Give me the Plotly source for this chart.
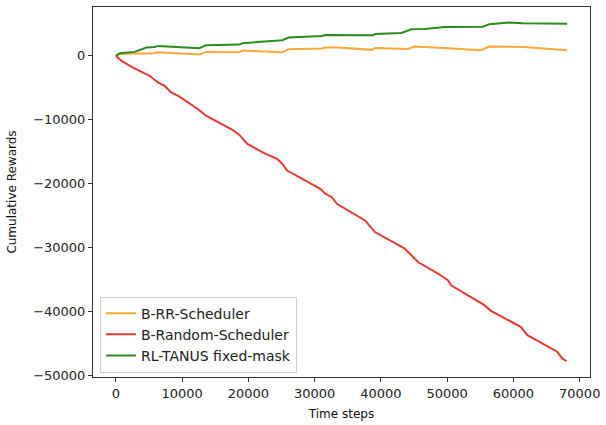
import plotly.graph_objects as go

# ---- data ----
rr_x = [0, 600, 2850, 5600, 6350, 12600, 13600, 18600, 19100, 25100, 26100, 31100, 31600,
        33600, 38600, 39100, 44100, 45100, 50100, 55100, 56350, 61600, 68100]
rr_y = [0, 300, 380, 365, 575, 200, 625, 575, 830, 575, 1040, 1145, 1300,
        1300, 940, 1250, 1090, 1450, 1200, 890, 1450, 1400, 890]

rand_x = [0, 850, 2600, 5100, 6350, 7350, 8350, 9600, 12350, 13600, 17600, 18600, 19850,
          22600, 24350, 25100, 25850, 28100, 30850, 31600, 32600, 33350, 37600, 39100,
          43600, 45600, 48600, 50100, 50600, 55600, 56600, 61100, 62100, 66600, 67350, 68000]
rand_y = [0, -780, -1830, -3125, -4170, -4690, -5730, -6400, -8330, -9375, -11600, -12340, -13800,
          -15360, -16150, -16900, -17970, -19270, -20830, -21600, -22140, -23170, -25780, -27600,
          -30200, -32300, -34100, -35160, -35940, -39060, -39950, -42450, -43750, -46350, -47400, -47850]

rl_x = [0, 600, 2850, 4600, 5850, 6350, 12600, 13600, 18600, 19100, 25100, 26100, 31100, 31600,
        38850, 39100, 43100, 44600, 46600, 49600, 55350, 56350, 59350, 61350, 68100]
rl_y = [0, 420, 625, 1300, 1400, 1560, 1200, 1670, 1770, 1980, 2450, 2870, 3125, 3280,
        3230, 3440, 3600, 4170, 4220, 4530, 4580, 4950, 5210, 5100, 5050]

series_names = ["B-RR-Scheduler", "B-Random-Scheduler", "RL-TANUS fixed-mask"]
colors = ["#F8A93A", "#E8392F", "#2E8B22"]

x_ticks = [0, 10000, 20000, 30000, 40000, 50000, 60000, 70000]
y_ticks = [0, -10000, -20000, -30000, -40000, -50000]


def fmt(v):
    return ("\u2212" + str(abs(v))) if v < 0 else str(v)


fig = go.Figure()
for name, xs, ys, c in zip(series_names, [rr_x, rand_x, rl_x], [rr_y, rand_y, rl_y], colors):
    fig.add_trace(go.Scatter(x=xs, y=ys, mode="lines", name=name,
                             line=dict(color=c, width=2)))

tick_font = dict(family="DejaVu Sans", size=13, color="#222")
title_font = dict(family="DejaVu Sans", size=12, color="#111")
axis_common = dict(showgrid=False, zeroline=False, showline=True, mirror=True,
                   linecolor="#333", linewidth=1, ticks="outside", ticklen=4,
                   tickcolor="#333", tickfont=tick_font)

fig.update_layout(
    width=606, height=425,
    margin=dict(l=93, r=13, t=6, b=48),
    paper_bgcolor="white", plot_bgcolor="white",
    font=tick_font,
    xaxis=dict(range=[-3450, 71550], tickmode="array", tickvals=x_ticks,
               ticktext=[fmt(v) for v in x_ticks],
               title=dict(text="Time steps", font=title_font, standoff=10), **axis_common),
    yaxis=dict(range=[-50312, 7656], tickmode="array", tickvals=y_ticks,
               ticktext=[fmt(v) for v in y_ticks],
               title=dict(text="Cumulative Rewards", font=title_font, standoff=13), **axis_common),
    legend=dict(x=0.014, y=0.012, xanchor="left", yanchor="bottom",
                bgcolor="rgba(255,255,255,0.9)", bordercolor="#d0d0d0", borderwidth=1,
                font=dict(family="DejaVu Sans", size=14, color="#222"),
                tracegroupgap=0, itemwidth=30),
    showlegend=True,
)

fig.write_html("out.html",
               config={"displayModeBar": False},
               post_script="document.body.style.margin='0';document.body.style.overflow='hidden';")
